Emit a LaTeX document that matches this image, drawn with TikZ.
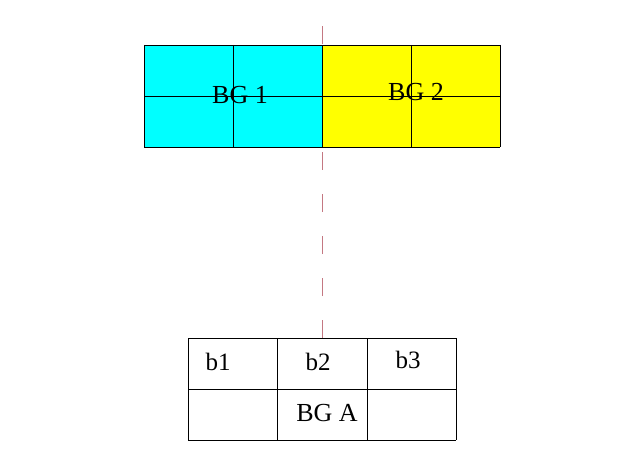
\documentclass[tikz,border=0pt]{standalone}
\usepackage{fontspec}
\setmainfont{Liberation Serif}
\usepackage[dvipsnames]{xcolor}
\usepackage{tikz}

\definecolor{bgcyan}{RGB}{0,255,255}
\definecolor{bgyellow}{RGB}{255,255,0}
\definecolor{axisred}{RGB}{196,120,130}

\begin{document}
\begin{tikzpicture}[x=1pt, y=-1pt, line width=.9pt];
    \useasboundingbox (0,0) rectangle (639,449);

    \fill[bgcyan] (144,45) rectangle (322,147);
    \fill[bgyellow] (322,45) rectangle (500,147);

    \draw[axisred, line width=.8pt, dash pattern=on 18pt off 24pt] (322,338) -- (322,18);

    \draw (144,45) -- (500,45);
    \draw (144,96) -- (500,96);
    \draw (144,147) -- (500,147);
    \draw (144,45) -- (144,147);
    \draw (233,45) -- (233,147);
    \draw (322,45) -- (322,147);
    \draw (411,45) -- (411,147);
    \draw (500,45) -- (500,147);

    \draw (188,338) -- (456,338);
    \draw (188,389) -- (456,389);
    \draw (188,440) -- (456,440);
    \draw (188,338) -- (188,440);
    \draw (277,338) -- (277,440);
    \draw (367,338) -- (367,440);
    \draw (456,338) -- (456,440);

    \node[font=\fontsize{26}{26}\selectfont] (bg1) at (240,95) {BG 1};
    \node[font=\fontsize{26}{26}\selectfont] (bg2) at (416,92) {BG 2};
    \node[font=\fontsize{25}{25}\selectfont] (b1) at (218,362) {b1};
    \node[font=\fontsize{25}{25}\selectfont] (b2) at (318,362) {b2};
    \node[font=\fontsize{25}{25}\selectfont] (b3) at (408,360) {b3};
    \node[font=\fontsize{26}{26}\selectfont] (bga) at (327,413) {BG A};
\end{tikzpicture}
\end{document}
